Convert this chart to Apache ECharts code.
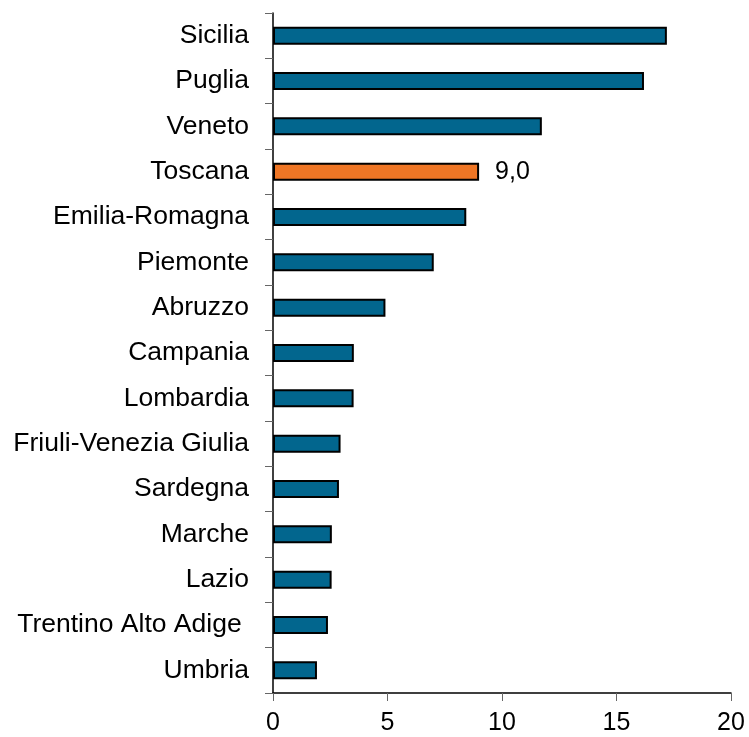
<!DOCTYPE html>
<html>
<head>
<meta charset="UTF-8">
<script src="https://cdn.jsdelivr.net/npm/echarts@6/dist/echarts.min.js"></script>
<style>
  html, body { margin: 0; padding: 0; background: #fff; }
  #chart { width: 749px; height: 737px; }
</style>
</head>
<body>
<div id="chart"></div>
<script>
// categories, top to bottom
var regioni = ['Sicilia', 'Puglia', 'Veneto', 'Toscana', 'Emilia-Romagna', 'Piemonte', 'Abruzzo',
  'Campania', 'Lombardia', 'Friuli-Venezia Giulia', 'Sardegna', 'Marche', 'Lazio',
  'Trentino Alto Adige ', 'Umbria'];
var valori = [17.2, 16.2, 11.74, 9.0, 8.44, 7.02, 4.91, 3.53, 3.52, 2.95, 2.88, 2.57, 2.56, 2.40, 1.92];
var evidenziata = 'Toscana';

var blu = '#02668E';
var arancio = '#EF7625';
var font = 'Liberation Sans, Arial, sans-serif';

var chart = echarts.init(document.getElementById('chart'));

var dati = valori.map(function (v, i) {
  var hl = regioni[i] === evidenziata;
  return {
    value: v,
    itemStyle: { color: hl ? arancio : blu },
    label: {
      show: hl,
      position: 'right',
      distance: 16,
      formatter: function (p) { return p.value.toFixed(1).replace('.', ','); },
      fontSize: 25,
      color: '#000',
      fontFamily: font
    }
  };
});

var option = {
  animation: false,
  grid: { left: 273, right: 18, top: 13, bottom: 44 },
  xAxis: {
    type: 'value',
    min: 0,
    max: 20,
    interval: 5,
    axisLine: { show: true, lineStyle: { color: '#000', width: 1.5 } },
    axisTick: { show: true, length: 8, lineStyle: { color: '#666' } },
    splitLine: { show: false },
    axisLabel: { fontSize: 25, color: '#000', margin: 18, fontFamily: font }
  },
  yAxis: {
    type: 'category',
    inverse: true,
    data: regioni,
    axisLine: { show: true, lineStyle: { color: '#000', width: 1.5 } },
    axisTick: { show: true, length: 8, lineStyle: { color: '#666' } },
    axisLabel: { fontSize: 26.5, color: '#000', margin: 24, fontFamily: font }
  },
  series: [{
    type: 'bar',
    data: dati,
    barWidth: 18,
    itemStyle: { borderColor: '#000', borderWidth: 2 }
  }]
};

chart.setOption(option);
</script>
</body>
</html>
